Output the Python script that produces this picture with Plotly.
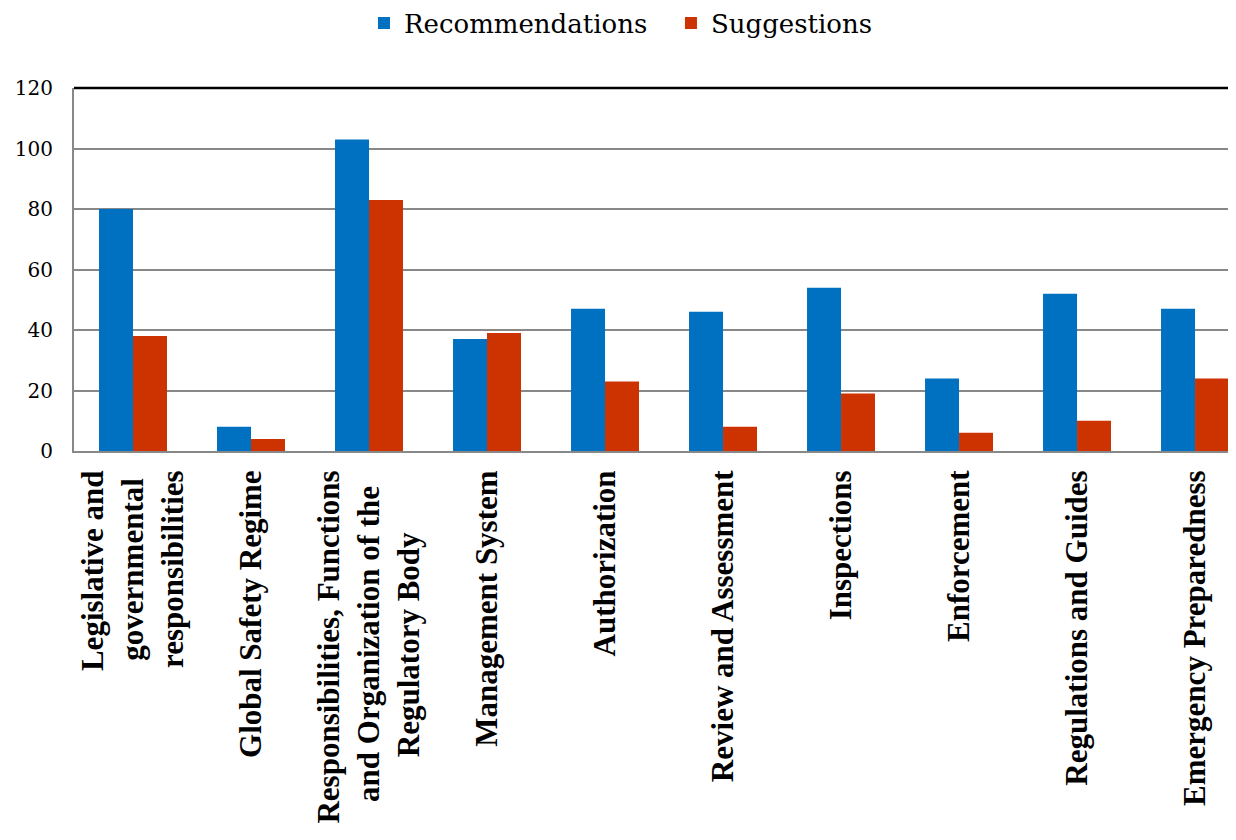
import plotly.graph_objects as go

categories = [
    "Legislative and<br>governmental<br>responsibilities",
    "Global Safety Regime",
    "Responsibilities, Functions<br>and Organization of the<br>Regulatory Body",
    "Management System",
    "Authorization",
    "Review and Assessment",
    "Inspections",
    "Enforcement",
    "Regulations and Guides",
    "Emergency Preparedness",
]
recommendations = [80, 8, 103, 37, 47, 46, 54, 24, 52, 47]
suggestions = [38, 4, 83, 39, 23, 8, 19, 6, 10, 24]
y_ticks = [0, 20, 40, 60, 80, 100, 120]

FONT = "Liberation Serif, Times New Roman, serif"
REG_FONT = "DejaVu Serif, serif"

# Approximate Times-Bold advance widths (per 1000 em) used to centre the
# lines of multi-line tick labels (plotly right-aligns them when rotated).
_W = dict(zip("abcdefghijklmnopqrstuvwxyz",
              [500, 556, 444, 556, 444, 333, 500, 556, 278, 333, 556, 278, 833,
               556, 500, 556, 556, 444, 389, 333, 556, 500, 722, 500, 500, 444]))
_W.update(zip("ABCDEFGHIJKLMNOPQRSTUVWXYZ",
              [722, 667, 722, 722, 667, 611, 778, 778, 389, 500, 778, 667, 944,
               722, 778, 611, 778, 722, 556, 667, 722, 722, 1000, 722, 722, 667]))
_W.update({" ": 250, ",": 250})


def centre_lines(label):
    lines = label.split("<br>")
    widths = [sum(_W.get(ch, 500) for ch in ln) for ln in lines]
    top = max(widths)
    out = [ln + "\u00a0" * round((top - w) / 2 / 250) for ln, w in zip(lines, widths)]
    return "<br>".join(out)


tick_text = [centre_lines(c) for c in categories]

fig = go.Figure()
fig.add_trace(go.Bar(x=categories, y=recommendations, name="Recommendations",
                     marker=dict(color="#0070C0", line=dict(width=0))))
fig.add_trace(go.Bar(x=categories, y=suggestions, name="Suggestions",
                     marker=dict(color="#CC3300", line=dict(width=0))))

fig.update_layout(
    width=1236, height=840,
    margin=dict(l=66, r=0, t=80, b=397),
    plot_bgcolor="white", paper_bgcolor="white",
    barmode="group", bargap=0.424, bargroupgap=0,
    font=dict(family=FONT, color="black"),
    legend=dict(orientation="h", xref="container", yref="container",
                x=0.288, xanchor="left", y=0.982, yanchor="middle",
                font=dict(size=26, family=REG_FONT), itemwidth=30,
                entrywidth=262, entrywidthmode="pixels",
                traceorder="normal"),
    xaxis=dict(range=[-0.5, 9.415], tickangle=-90, showgrid=False,
               tickvals=categories, ticktext=tick_text,
               showline=True, linecolor="#888888", linewidth=2,
               ticks="", ticklabelstandoff=5,
               tickfont=dict(size=31, family=FONT, weight="bold")),
    yaxis=dict(range=[0, 120], tickvals=y_ticks, showgrid=True,
               gridcolor="#888888", gridwidth=1.5, zeroline=False,
               showline=True, linecolor="#888888", linewidth=2,
               ticks="", ticklabelstandoff=15,
               tickfont=dict(size=20, family=REG_FONT)),
    shapes=[dict(type="line", xref="paper", yref="paper", x0=0, x1=1, y0=1, y1=1,
                 line=dict(color="black", width=2.5))],
)

fig.write_html("out.html")
